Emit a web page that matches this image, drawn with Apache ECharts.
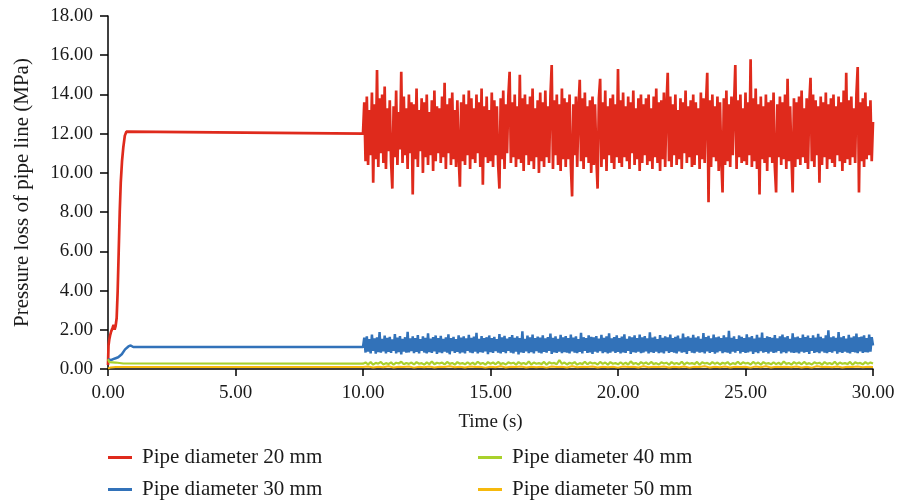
<!DOCTYPE html>
<html>
<head>
<meta charset="utf-8">
<script src="https://cdn.jsdelivr.net/npm/echarts@6/dist/echarts.min.js"></script>
<style>html,body{margin:0;padding:0;background:#fff;}#c{width:899px;height:500px;}</style>
</head>
<body>
<div id="c"></div>
<script>
// ---------- DATA ----------
var seriesNames = ['Pipe diameter 20 mm', 'Pipe diameter 30 mm', 'Pipe diameter 40 mm', 'Pipe diameter 50 mm'];
var xTicks = [0, 5, 10, 15, 20, 25, 30];
var yTicks = [0, 2, 4, 6, 8, 10, 12, 14, 16, 18];

// start-up phase (0 - 10 s): time / value pairs
var redRiseTime  = [0, 0.02, 0.05, 0.08, 0.12, 0.18, 0.22, 0.26, 0.30, 0.34, 0.38, 0.42, 0.46, 0.50, 0.55, 0.60, 0.66, 0.72, 0.78, 10.0];
var redRiseValue = [0.2, 1.2, 1.5, 1.7, 1.9, 2.1, 2.25, 2.0, 2.2, 2.6, 4.0, 6.0, 8.0, 9.5, 10.6, 11.3, 11.9, 12.1, 12.0, 12.0];
var blueRiseTime  = [0, 0.05, 0.12, 0.2, 0.3, 0.4, 0.54, 0.67, 0.8, 0.89, 0.99, 10.0];
var blueRiseValue = [0.5, 0.42, 0.45, 0.5, 0.55, 0.6, 0.75, 1.0, 1.15, 1.2, 1.12, 1.12];
var greenRiseTime  = [0, 0.05, 0.1, 0.3, 0.6, 10.0];
var greenRiseValue = [0.5, 0.35, 0.3, 0.33, 0.28, 0.27];
var yellowRiseTime  = [0, 0.1, 0.3, 10.0];
var yellowRiseValue = [0.02, 0.08, 0.1, 0.1];

// fluctuating phase (10 - 30 s), sampled every noiseStep seconds
var redNoiseStart = 10, redNoiseStep = 0.05;
var redNoise = [
12.0,13.6,10.6,13.9,10.4,13.2,10.9,14.1,9.5,13.5,10.7,15.25,10.3,13.8,11.0,14.0,10.5,14.4,10.2,13.3,
11.1,13.7,10.6,9.2,13.4,10.8,14.2,10.4,13.1,11.2,15.15,10.5,13.9,10.9,13.3,10.2,14.0,11.0,13.6,8.9,
13.5,10.7,14.3,10.3,13.2,11.1,13.8,10.0,13.6,10.8,14.0,10.4,13.1,10.9,13.7,10.1,14.2,10.6,13.4,11.0,
13.3,10.5,13.9,10.8,14.6,10.2,13.5,11.0,13.8,10.4,14.1,10.7,13.2,10.3,13.7,10.9,9.3,13.6,10.6,14.0,
10.4,13.5,10.9,14.2,10.2,13.8,10.7,13.3,10.5,14.0,11.0,13.6,10.3,14.3,9.4,13.4,10.8,13.9,10.5,13.2,
10.6,14.1,10.3,13.7,10.9,13.4,10.4,9.2,13.8,10.7,14.2,10.2,13.5,11.0,13.9,15.15,10.5,13.6,10.8,14.0,
10.3,13.4,10.7,15.0,10.5,13.8,10.1,14.0,10.9,13.5,10.4,13.9,10.6,14.3,10.2,13.3,10.8,13.7,10.0,14.1,
10.6,13.6,10.3,14.2,10.8,13.4,10.5,13.9,15.5,10.2,13.7,10.9,14.0,10.4,13.5,10.1,14.3,10.7,13.8,10.3,
13.6,10.7,14.0,10.4,8.8,13.5,10.9,13.9,10.3,13.3,14.75,10.6,13.8,10.2,14.1,10.8,13.4,10.5,13.7,10.0,
13.9,10.4,13.5,10.8,9.2,13.8,14.8,10.3,13.6,10.7,14.2,10.1,13.4,10.9,13.8,10.5,14.0,10.2,13.5,10.8,
15.3,10.5,13.7,10.3,14.1,10.8,13.4,10.6,13.9,10.2,13.6,11.0,14.2,10.4,13.3,10.7,13.8,10.1,14.0,10.5,
13.5,10.9,13.8,10.4,14.0,10.6,13.3,10.2,13.9,10.8,14.3,10.5,13.6,10.1,13.7,10.7,14.1,10.3,13.4,15.1,
10.6,13.9,10.3,13.5,10.9,14.0,10.4,13.2,10.7,13.8,10.2,13.6,11.0,14.2,10.5,13.4,10.8,13.7,10.3,14.0,
10.4,13.6,10.9,13.3,10.2,14.1,10.7,13.8,10.5,13.5,15.1,8.5,13.7,10.3,14.0,10.8,13.4,10.6,13.9,10.1,
13.6,10.7,9.0,13.8,10.4,14.2,10.6,13.5,10.3,13.9,10.9,13.4,15.5,10.2,13.7,10.8,14.0,10.5,13.3,10.6,
14.1,10.4,13.6,10.9,15.8,10.3,13.8,10.6,14.3,10.2,13.5,8.9,13.9,10.7,13.4,10.5,14.0,10.1,13.6,10.8,
13.7,10.5,14.1,10.3,9.0,13.5,10.8,13.9,10.4,13.6,10.7,14.0,10.2,14.8,10.6,13.4,10.9,9.0,13.8,10.3,
13.6,10.7,13.9,10.4,14.2,10.8,13.3,10.5,13.8,10.2,13.5,14.85,10.6,14.0,10.3,13.7,10.9,13.4,9.5,13.9,
10.4,13.6,10.8,14.1,10.2,13.5,10.7,13.8,10.5,14.0,10.3,13.4,10.9,13.9,10.6,13.6,10.1,14.2,10.5,15.1,
10.7,13.7,10.4,13.9,10.8,13.3,10.5,14.0,15.4,9.0,13.6,10.6,13.8,10.3,14.1,10.7,13.4,10.9,13.7,10.6,
12.6];

var blueNoiseStart = 10, blueNoiseStep = 0.05;
var blueNoise = [
1.15,1.60,0.84,1.67,0.88,1.52,0.80,1.76,0.92,1.56,0.78,1.62,0.86,1.88,0.83,1.54,0.90,1.70,0.80,1.59,
0.87,1.64,0.82,1.51,0.92,1.78,0.79,1.60,0.86,1.68,0.75,1.54,0.88,1.62,0.83,1.90,0.85,1.56,0.91,1.66,
0.81,1.58,0.87,1.73,0.79,1.53,0.93,1.67,0.84,1.59,0.80,1.82,0.86,1.55,0.82,1.63,0.90,1.71,0.77,1.57,
0.85,1.69,0.81,1.54,0.88,1.61,0.83,1.77,0.75,1.57,0.91,1.64,0.82,1.52,0.87,1.72,0.80,1.60,0.85,1.67,
0.79,1.56,0.92,1.74,0.84,1.59,0.81,1.65,0.88,1.84,0.80,1.54,0.86,1.68,0.83,1.58,0.90,1.62,0.76,1.71,
0.86,1.57,0.82,1.64,0.91,1.53,0.84,1.78,0.79,1.61,0.87,1.69,0.81,1.55,0.92,1.63,0.83,1.73,0.80,1.59,
0.88,1.66,0.75,1.58,0.85,1.92,0.82,1.54,0.90,1.70,0.81,1.61,0.86,1.76,0.79,1.57,0.91,1.65,0.84,1.60,
0.80,1.72,0.87,1.56,0.83,1.63,0.92,1.80,0.77,1.59,0.85,1.67,0.82,1.54,0.88,1.74,0.81,1.62,0.86,1.68,
0.83,1.58,0.79,1.76,0.90,1.60,0.84,1.66,0.81,1.53,0.87,1.85,0.80,1.62,0.93,1.57,0.82,1.71,0.85,1.64,
0.77,1.61,0.88,1.68,0.83,1.55,0.91,1.74,0.81,1.59,0.86,1.66,0.79,1.82,0.84,1.56,0.90,1.63,0.82,1.72,
0.87,1.58,0.80,1.65,0.85,1.77,0.82,1.54,0.92,1.67,0.77,1.61,0.86,1.71,0.83,1.57,0.88,1.75,0.81,1.62,
0.84,1.68,0.90,1.56,0.80,1.87,0.86,1.60,0.82,1.65,0.88,1.53,0.81,1.73,0.85,1.59,0.79,1.67,0.91,1.61,
0.82,1.76,0.87,1.57,0.84,1.64,0.80,1.70,0.90,1.55,0.83,1.80,0.86,1.62,0.77,1.66,0.92,1.59,0.84,1.74,
0.81,1.60,0.88,1.67,0.83,1.54,0.86,1.83,0.80,1.63,0.90,1.69,0.82,1.56,0.87,1.75,0.78,1.61,0.85,1.65,
0.91,1.58,0.81,1.72,0.86,1.62,0.83,1.95,0.78,1.59,0.88,1.66,0.84,1.53,0.92,1.71,0.80,1.64,0.87,1.57,
0.82,1.77,0.85,1.61,0.90,1.68,0.77,1.55,0.86,1.74,0.81,1.60,0.91,1.86,0.83,1.57,0.87,1.66,0.80,1.63,
0.88,1.59,0.82,1.73,0.85,1.56,0.92,1.67,0.79,1.76,0.86,1.62,0.81,1.68,0.90,1.54,0.84,1.82,0.82,1.61,
0.85,1.65,0.80,1.58,0.88,1.75,0.83,1.63,0.87,1.70,0.77,1.57,0.92,1.72,0.82,1.60,0.86,1.79,0.81,1.64,
0.90,1.56,0.84,1.71,0.81,1.97,0.87,1.61,0.83,1.66,0.91,1.59,0.78,1.88,0.86,1.62,0.82,1.68,0.88,1.55,
0.83,1.74,0.80,1.60,0.87,1.67,0.84,1.81,0.81,1.62,0.90,1.65,0.82,1.72,0.86,1.58,0.85,1.76,0.88,1.62,
1.20];

var greenNoiseStart = 10, greenNoiseStep = 0.1;
var greenNoise = [
0.26,0.33,0.24,0.35,0.22,0.31,0.27,0.36,0.23,0.30,
0.25,0.34,0.22,0.32,0.28,0.37,0.24,0.31,0.26,0.33,
0.23,0.35,0.27,0.30,0.22,0.34,0.25,0.38,0.24,0.32,
0.28,0.33,0.23,0.36,0.26,0.31,0.22,0.35,0.27,0.30,
0.24,0.34,0.25,0.32,0.23,0.37,0.26,0.31,0.22,0.35,
0.27,0.33,0.24,0.36,0.25,0.30,0.23,0.34,0.28,0.32,
0.22,0.35,0.26,0.31,0.24,0.38,0.23,0.33,0.27,0.30,
0.25,0.36,0.22,0.34,0.28,0.31,0.24,0.46,0.26,0.33,
0.23,0.32,0.27,0.35,0.22,0.30,0.25,0.37,0.24,0.34,
0.28,0.31,0.23,0.36,0.26,0.33,0.22,0.35,0.27,0.30,
0.24,0.34,0.25,0.32,0.23,0.39,0.26,0.31,0.22,0.35,
0.27,0.33,0.24,0.36,0.25,0.30,0.23,0.34,0.28,0.32,
0.22,0.35,0.26,0.31,0.24,0.37,0.23,0.33,0.27,0.30,
0.25,0.36,0.22,0.34,0.28,0.31,0.24,0.35,0.26,0.33,
0.23,0.32,0.27,0.35,0.22,0.30,0.25,0.37,0.24,0.34,
0.28,0.31,0.23,0.36,0.26,0.33,0.22,0.35,0.27,0.30,
0.24,0.34,0.25,0.32,0.23,0.38,0.26,0.31,0.22,0.35,
0.27,0.33,0.24,0.36,0.25,0.30,0.23,0.34,0.28,0.32,
0.22,0.35,0.26,0.31,0.24,0.37,0.23,0.33,0.27,0.30,
0.25,0.36,0.22,0.34,0.28,0.31,0.24,0.35,0.26,0.33,
0.28];

var yellowNoiseStart = 10, yellowNoiseStep = 0.2;
var yellowNoise = [
0.10,0.13,0.08,0.12,0.09,0.14,0.08,0.11,0.10,0.13,
0.07,0.12,0.09,0.13,0.08,0.11,0.10,0.14,0.09,0.12,
0.08,0.13,0.10,0.11,0.07,0.12,0.09,0.14,0.08,0.12,
0.10,0.13,0.08,0.11,0.09,0.12,0.07,0.13,0.10,0.11,
0.08,0.14,0.09,0.12,0.10,0.13,0.08,0.11,0.09,0.12,
0.07,0.13,0.10,0.12,0.08,0.14,0.09,0.11,0.10,0.13,
0.08,0.12,0.09,0.13,0.07,0.11,0.10,0.14,0.08,0.12,
0.09,0.13,0.08,0.11,0.10,0.12,0.07,0.13,0.09,0.14,
0.08,0.12,0.10,0.11,0.09,0.13,0.08,0.12,0.07,0.14,
0.10,0.11,0.09,0.13,0.08,0.12,0.10,0.13,0.09,0.11,
0.10];

var colors = ['#df2a1c', '#3272b9', '#a9d12c', '#f6b90d'];
var lineWidths = [2.7, 2.5, 2.2, 2.0];

// ---------- BUILD ----------
function build(rt, rv, start, step, noise) {
  var out = [];
  for (var i = 0; i < rt.length; i++) out.push([rt[i], rv[i]]);
  for (var j = 0; j < noise.length; j++) out.push([+(start + j * step).toFixed(3), noise[j]]);
  return out;
}
var dataSets = [
  build(redRiseTime, redRiseValue, redNoiseStart, redNoiseStep, redNoise),
  build(blueRiseTime, blueRiseValue, blueNoiseStart, blueNoiseStep, blueNoise),
  build(greenRiseTime, greenRiseValue, greenNoiseStart, greenNoiseStep, greenNoise),
  build(yellowRiseTime, yellowRiseValue, yellowNoiseStart, yellowNoiseStep, yellowNoise)
];

var FONT = '"Liberation Serif", "Times New Roman", serif';
var chart = echarts.init(document.getElementById('c'), null, {renderer: 'canvas'});
var series = seriesNames.map(function (n, k) {
  return {
    name: n, type: 'line', data: dataSets[k], showSymbol: false, symbol: 'none',
    lineStyle: {width: lineWidths[k], color: colors[k], join: 'bevel', cap: 'butt'}, itemStyle: {color: colors[k]},
    animation: false, z: 2
  };
});
function legendAt(idx, left, top) {
  return {
    data: [seriesNames[idx]], left: left, top: top, orient: 'horizontal',
    icon: 'rect', itemWidth: 24, itemHeight: 3, itemGap: 0, padding: 0,
    textStyle: {fontFamily: FONT, fontSize: 21, color: '#1a1a1a', padding: [0, 0, 0, 5]}
  };
}
chart.setOption({
  backgroundColor: '#fff',
  animation: false,
  color: colors,
  grid: {left: 108, right: 26, top: 16, bottom: 131},
  legend: [
    legendAt(0, 108, 447),
    legendAt(1, 108, 479),
    legendAt(2, 478, 447),
    legendAt(3, 478, 479)
  ],
  xAxis: {
    type: 'value', min: 0, max: 30, interval: 5,
    name: 'Time (s)', nameLocation: 'middle', nameGap: 44,
    nameTextStyle: {fontFamily: FONT, fontSize: 19, color: '#1a1a1a'},
    axisLine: {lineStyle: {color: '#000', width: 1.5}},
    axisTick: {inside: false, length: 7, lineStyle: {color: '#000', width: 1.5}},
    axisLabel: {margin: 15, fontFamily: FONT, fontSize: 19, color: '#1a1a1a',
      formatter: function (v) { return v.toFixed(2); }},
    splitLine: {show: false}
  },
  yAxis: {
    type: 'value', min: 0, max: 18, interval: 2,
    name: 'Pressure loss of pipe line (MPa)', nameLocation: 'middle', nameGap: 75,
    nameTextStyle: {fontFamily: FONT, fontSize: 21, color: '#1a1a1a'},
    axisLine: {show: true, lineStyle: {color: '#000', width: 1.5}},
    axisTick: {show: true, inside: false, length: 8, lineStyle: {color: '#000', width: 1.5}},
    axisLabel: {margin: 15, fontFamily: FONT, fontSize: 19, color: '#1a1a1a',
      formatter: function (v) { return v.toFixed(2); }},
    splitLine: {show: false}
  },
  series: series
});
</script>
</body>
</html>
